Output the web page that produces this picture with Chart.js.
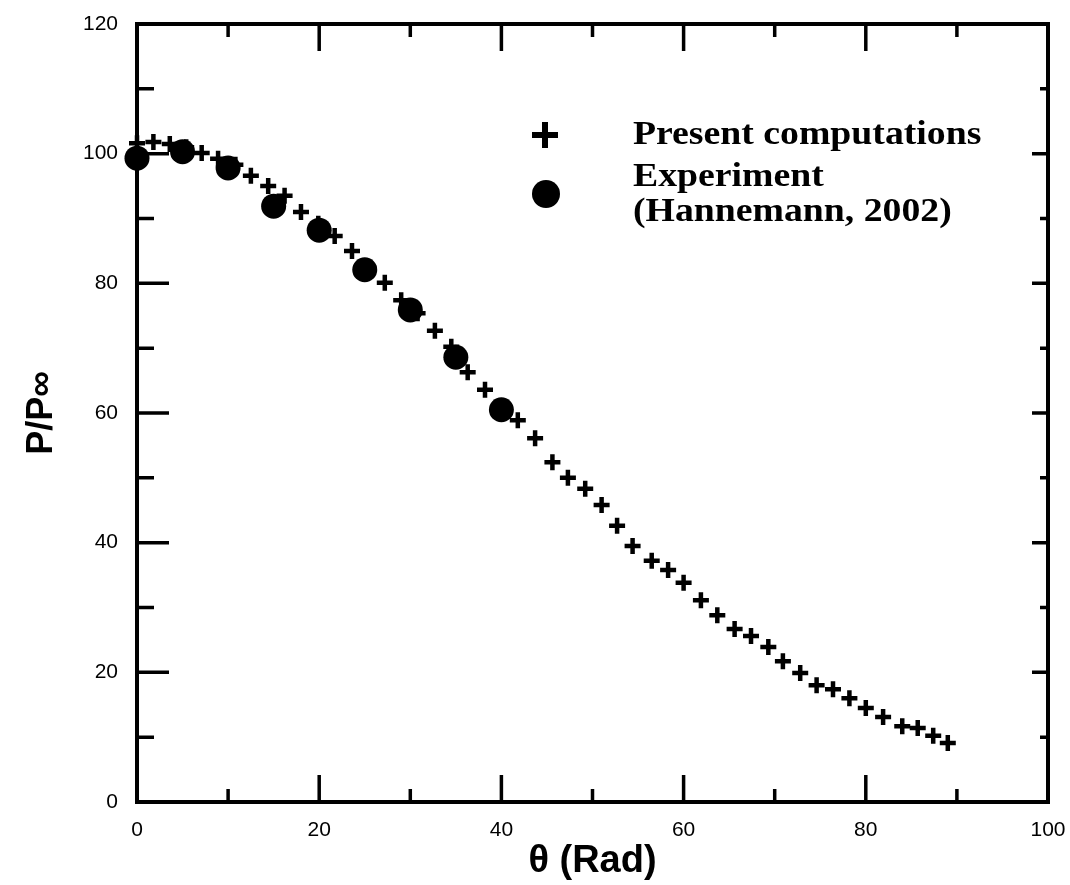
<!DOCTYPE html>
<html>
<head>
<meta charset="utf-8">
<title>P/P∞ vs θ</title>
<script src="https://cdn.jsdelivr.net/npm/chart.js@4"></script>
<style>
  html, body { margin: 0; padding: 0; background: #fff; }
  canvas { display: block; }
</style>
</head>
<body>
<canvas id="grafico" width="1070" height="885"></canvas>
<script>
// present computations (crosses)
const thetaComp = [0, 1.8, 3.6, 5.4, 7.1, 8.9, 10.8, 12.5, 14.4, 16.2, 18.0, 19.9, 21.7, 23.6, 25.4,
  27.2, 29.0, 30.8, 32.7, 34.5, 36.3, 38.2, 40.0, 41.8, 43.7, 45.6, 47.3, 49.2, 51.0, 52.7,
  54.4, 56.5, 58.3, 60.0, 61.9, 63.7, 65.6, 67.4, 69.3, 70.9, 72.8, 74.6, 76.4, 78.2, 80.0,
  81.9, 84.0, 85.7, 87.4, 89.0];
const pComp = [101.6, 101.8, 101.5, 101.0, 100.1, 99.2, 98.3, 96.6, 95.0, 93.5, 91.0, 89.2, 87.3, 85.0, 82.4,
  80.1, 77.4, 75.4, 72.7, 70.2, 66.3, 63.6, 60.9, 58.9, 56.1, 52.4, 50.0, 48.3, 45.8, 42.6,
  39.5, 37.2, 35.8, 33.8, 31.1, 28.8, 26.7, 25.6, 23.9, 21.7, 19.9, 18.0, 17.4, 16.0, 14.5,
  13.1, 11.7, 11.4, 10.2, 9.1];

// experiment (Hannemann, 2002)
const thetaExp = [0, 5, 10, 15, 20, 25, 30, 35, 40];
const pExp = [99.3, 100.3, 97.8, 91.9, 88.2, 82.1, 75.9, 68.6, 60.5];

const xTicks = [0, 20, 40, 60, 80, 100];
const yTicks = [0, 20, 40, 60, 80, 100, 120];

const legendItems = ["Present computations", "Experiment", "(Hannemann, 2002)"];

function pares(xs, ys) {
  return xs.map((x, i) => ({ x: x, y: ys[i] }));
}

// frame + inward ticks on the four sides
const molduraPlugin = {
  id: "moldura",
  afterDatasetsDraw(chart) {
    const { ctx, chartArea: a, scales } = chart;
    ctx.save();
    ctx.strokeStyle = "#000";
    ctx.lineWidth = 4;
    ctx.lineCap = "square";
    ctx.strokeRect(a.left, a.top, a.right - a.left, a.bottom - a.top);

    ctx.lineWidth = 3.5;
    ctx.lineCap = "butt";
    for (let v = 10; v < 100; v += 10) {
      const px = scales.x.getPixelForValue(v);
      const major = v % 20 === 0;
      const l = major ? 27 : 13;
      ctx.beginPath();
      ctx.moveTo(px, a.bottom);
      ctx.lineTo(px, a.bottom - l);
      ctx.moveTo(px, a.top);
      ctx.lineTo(px, a.top + l);
      ctx.stroke();
    }
    for (let v = 10; v < 120; v += 10) {
      const py = scales.y.getPixelForValue(v);
      const major = v % 20 === 0;
      const ll = major ? 32 : 17;
      const lr = major ? 16 : 8;
      ctx.beginPath();
      ctx.moveTo(a.left, py);
      ctx.lineTo(a.left + ll, py);
      ctx.moveTo(a.right, py);
      ctx.lineTo(a.right - lr, py);
      ctx.stroke();
    }
    ctx.restore();
  },
};

// legend inside the plot
const legendaPlugin = {
  id: "legenda",
  afterDraw(chart) {
    const { ctx } = chart;
    ctx.save();
    ctx.fillStyle = "#000";
    ctx.strokeStyle = "#000";

    ctx.lineWidth = 6;
    ctx.beginPath();
    ctx.moveTo(532, 135);
    ctx.lineTo(558, 135);
    ctx.moveTo(545, 122);
    ctx.lineTo(545, 148);
    ctx.stroke();

    ctx.beginPath();
    ctx.arc(546, 194, 14, 0, Math.PI * 2);
    ctx.fill();

    // texto um pouco esticado na horizontal, como no original
    ctx.translate(633, 0);
    ctx.scale(1.11, 1);
    ctx.font = "bold 34px 'Liberation Serif', 'Times New Roman', serif";
    ctx.textBaseline = "middle";
    ctx.textAlign = "left";
    ctx.fillText(legendItems[0], 0, 135);
    ctx.fillText(legendItems[1], 0, 177);
    ctx.fillText(legendItems[2], 0, 212);
    ctx.restore();
  },
};

const ctx = document.getElementById("grafico");

new Chart(ctx, {
  type: "scatter",
  data: {
    datasets: [
      {
        label: legendItems[0],
        data: pares(thetaComp, pComp),
        pointStyle: "cross",
        pointRadius: 8,
        pointBorderWidth: 4.5,
        borderColor: "#000",
        backgroundColor: "#000",
        clip: false,
      },
      {
        label: "Experiment (Hannemann, 2002)",
        data: pares(thetaExp, pExp),
        pointStyle: "circle",
        pointRadius: 12.5,
        pointBorderWidth: 0,
        borderColor: "#000",
        backgroundColor: "#000",
        clip: false,
      },
    ],
  },
  options: {
    responsive: false,
    animation: false,
    layout: {
      padding: { top: 24, right: 22, left: 0, bottom: 0 },
    },
    plugins: {
      legend: { display: false },
      tooltip: { enabled: false },
    },
    scales: {
      x: {
        type: "linear",
        min: 0,
        max: 100,
        afterFit(scale) {
          scale.height = 83;
          scale.paddingLeft = 0;
          scale.paddingRight = 0;
        },
        afterBuildTicks(scale) {
          scale.ticks = xTicks.map((v) => ({ value: v }));
        },
        grid: { display: false, drawTicks: false },
        border: { display: false },
        ticks: {
          color: "#000",
          padding: 16,
          font: { family: "'Liberation Sans', Arial, sans-serif", size: 21 },
        },
        title: {
          display: true,
          text: "θ (Rad)",
          color: "#000",
          padding: { top: 0, bottom: 1 },
          font: { family: "'Liberation Sans', Arial, sans-serif", size: 38, weight: "bold" },
        },
      },
      y: {
        type: "linear",
        min: 0,
        max: 120,
        afterFit(scale) {
          scale.width = 137;
          scale.paddingTop = 0;
          scale.paddingBottom = 0;
        },
        afterBuildTicks(scale) {
          scale.ticks = yTicks.map((v) => ({ value: v }));
        },
        grid: { display: false, drawTicks: false },
        border: { display: false },
        ticks: {
          color: "#000",
          padding: 19,
          font: { family: "'Liberation Sans', Arial, sans-serif", size: 21 },
        },
        title: {
          display: true,
          text: "P/P∞",
          color: "#000",
          padding: { top: 20, bottom: 0 },
          font: { family: "'Liberation Sans', Arial, sans-serif", size: 36, weight: "bold" },
        },
      },
    },
  },
  plugins: [molduraPlugin, legendaPlugin],
});
</script>
</body>
</html>
